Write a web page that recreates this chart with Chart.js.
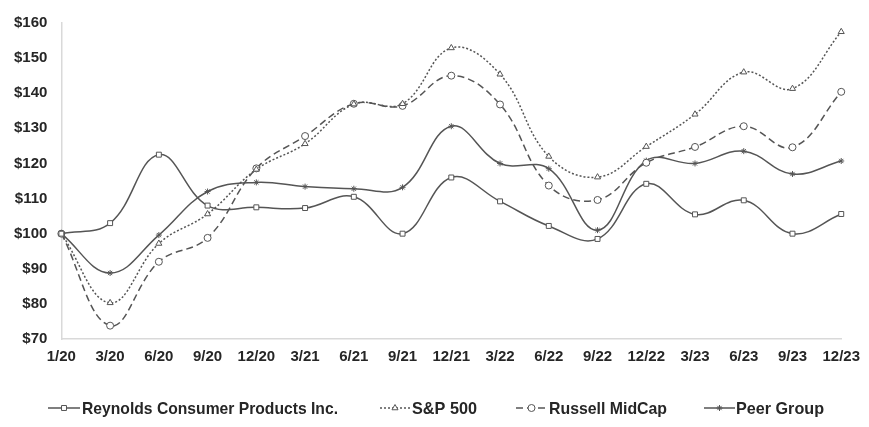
<!DOCTYPE html>
<html><head><meta charset="utf-8">
<script src="https://cdn.jsdelivr.net/npm/chart.js@4/dist/chart.umd.min.js"></script>
<style>html,body{margin:0;padding:0;background:#fff}#wrap{width:869px;height:427px;position:relative}</style>
</head><body><div id="wrap"><canvas id="c"></canvas></div>
<script>
const categories = ['1/20','3/20','6/20','9/20','12/20','3/21','6/21','9/21','12/21','3/22','6/22','9/22','12/22','3/23','6/23','9/23','12/23'];
const reynolds = [100,103,122.5,108,107.5,107.3,110.5,100,116,109.2,102.2,98.5,114.2,105.5,109.5,100,105.6];
const sp500 = [100,80.3,97.2,105.6,118.3,125.6,136.9,137,152.9,145.4,122,116.1,124.8,134,146,141.3,157.5];
const russell = [100,73.8,92,98.8,118.6,127.8,137,136.4,145,136.8,113.7,109.6,120.2,124.7,130.6,124.6,140.4];
const peer = [100,88.8,99.6,112,114.6,113.4,112.8,113.2,130.6,120,118.5,101,120.8,120,123.5,117,120.7];
const yTicks = {min:70, max:160, step:10};

const lineColor = '#555555';
const textColor = '#262626';
const styles = [
  {label:'Reynolds Consumer Products Inc.', data:reynolds, dash:[], point:'rect', fill:'#fff', r:3.5},
  {label:'S&P 500', data:sp500, dash:[2,2], point:'triangle', fill:'#fff', r:3.5},
  {label:'Russell MidCap', data:russell, dash:[7,4], point:'circle', fill:'#fff', r:3.5},
  {label:'Peer Group', data:peer, dash:[], point:'star', fill:lineColor, r:3}
];

const legendPlugin = {
  id:'customLegend',
  afterDraw(chart){
    const ctx = chart.ctx;
    const y = 408;
    const items = [{x0:48,x1:80,tx:82,w:256},{x0:380,x1:410,tx:412,w:65},{x0:516,x1:547,tx:549,w:118},{x0:704,x1:735,tx:736,w:88}];
    ctx.save();
    styles.forEach((s,i)=>{
      const it = items[i];
      ctx.strokeStyle = lineColor; ctx.lineWidth = 1.5; ctx.setLineDash(s.dash);
      ctx.beginPath(); ctx.moveTo(it.x0,y); ctx.lineTo(it.x1,y); ctx.stroke();
      ctx.setLineDash([]);
      ctx.fillStyle = s.fill; ctx.lineWidth = 1;
      Chart.helpers.drawPoint(ctx,{pointStyle:s.point, radius:s.r, rotation:0, borderWidth:1}, (it.x0+it.x1)/2, y);
      ctx.fillStyle = textColor; ctx.font = 'bold 17px "Liberation Sans", Arial'; ctx.textBaseline='middle';
      const mw = ctx.measureText(s.label).width;
      ctx.save();
      ctx.translate(it.tx, y+1);
      ctx.scale(it.w/mw, 1);
      ctx.fillText(s.label, 0, 0);
      ctx.restore();
    });
    ctx.restore();
  }
};

new Chart(document.getElementById('c'),{
  type:'line',
  data:{labels:categories, datasets:styles.map(s=>({
    label:s.label, data:s.data, borderColor:lineColor, borderWidth:1.5, borderDash:s.dash,
    pointStyle:s.point, pointRadius:s.r, pointBackgroundColor:s.fill, pointBorderColor:lineColor, pointBorderWidth:1,
    tension:0.4, fill:false
  }))},
  options:{
    responsive:true, maintainAspectRatio:false, animation:false,
    layout:{padding:{left:0,right:6,top:1,bottom:52}},
    plugins:{legend:{display:false}, tooltip:{enabled:false}},
    scales:{
      x:{offset:false, grid:{display:false, drawTicks:false}, border:{color:'#d9d9d9', width:1.5},
        ticks:{color:textColor, font:{family:'"Liberation Sans", Arial', weight:'bold', size:15}, maxRotation:0, autoSkip:false, padding:9}},
      y:{min:yTicks.min, max:yTicks.max, grid:{display:false, drawTicks:false}, border:{color:'#d9d9d9', width:1.5},
        ticks:{stepSize:yTicks.step, color:textColor, font:{family:'"Liberation Sans", Arial', weight:'bold', size:15}, padding:14, callback:v=>'$'+v}}
    }
  },
  plugins:[legendPlugin]
});
</script></body></html>
